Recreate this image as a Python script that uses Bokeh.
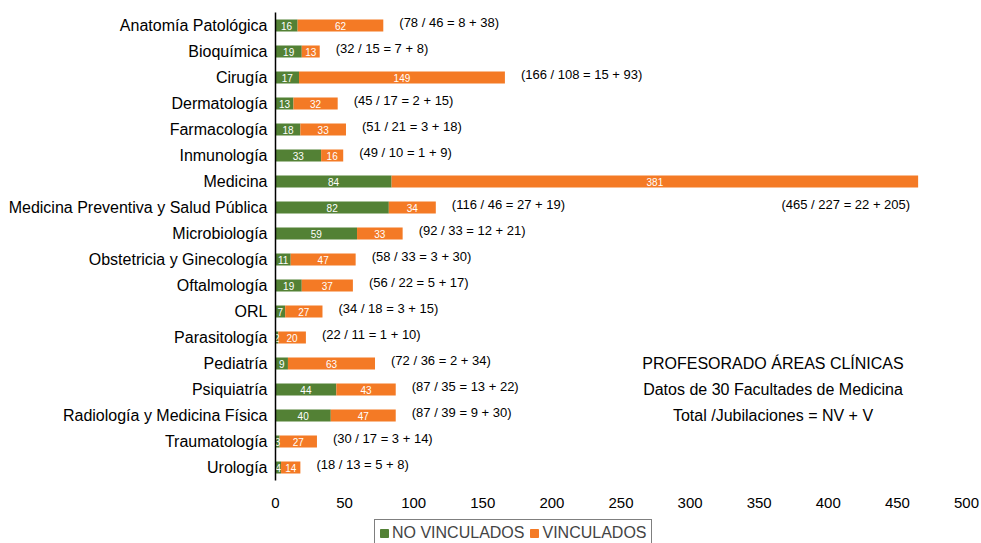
from bokeh.plotting import figure
from bokeh.layouts import column
from bokeh.models import ColumnDataSource, FactorRange, Legend, LegendItem, FixedTicker
from bokeh.core.properties import value
from bokeh.embed import file_html
from bokeh.resources import INLINE

categories = ["Anatomía Patológica", "Bioquímica", "Cirugía", "Dermatología", "Farmacología",
              "Inmunología", "Medicina", "Medicina Preventiva y Salud Pública", "Microbiología",
              "Obstetricia y Ginecología", "Oftalmología", "ORL", "Parasitología", "Pediatría",
              "Psiquiatría", "Radiología y Medicina Física", "Traumatología", "Urología"]
no_vinculados = [16, 19, 17, 13, 18, 33, 84, 82, 59, 11, 19, 7, 2, 9, 44, 40, 3, 4]
vinculados = [62, 13, 149, 32, 33, 16, 381, 34, 33, 47, 37, 27, 20, 63, 43, 47, 27, 14]
jub_nv = [8, 7, 15, 2, 3, 1, 22, 27, 12, 3, 5, 3, 1, 2, 13, 9, 3, 5]
jub_v = [38, 8, 93, 15, 18, 9, 205, 19, 21, 30, 17, 15, 10, 34, 22, 30, 14, 8]
x_ticks = [0, 50, 100, 150, 200, 250, 300, 350, 400, 450, 500]
series_names = ["NO VINCULADOS", "VINCULADOS"]
box_lines = ["PROFESORADO ÁREAS CLÍNICAS", "Datos de 30 Facultades de Medicina",
             "Total /Jubilaciones = NV + V"]

GREEN = "#538135"
ORANGE = "#F47A25"
FONT = "Liberation Sans"

totals = [a + b for a, b in zip(no_vinculados, vinculados)]
jub_tot = [a + b for a, b in zip(jub_nv, jub_v)]
ann = [f"({t} / {j} = {a} + {b})" for t, j, a, b in zip(totals, jub_tot, jub_nv, jub_v)]

src = ColumnDataSource(dict(cat=categories, nv=no_vinculados, v=vinculados,
                            nv_mid=[a / 2 for a in no_vinculados],
                            v_mid=[a + b / 2 for a, b in zip(no_vinculados, vinculados)],
                            nv_txt=[str(a) for a in no_vinculados],
                            v_txt=[str(b) for b in vinculados],
                            tot=totals, ann=ann))

p = figure(width=981, height=518, y_range=FactorRange(factors=categories[::-1], range_padding=0),
           x_range=(0, 500), output_backend="svg", toolbar_location=None,
           min_border_left=275, min_border_right=15, min_border_top=12, min_border_bottom=38)
p.outline_line_color = None
p.grid.grid_line_color = None
p.background_fill_color = "white"
p.border_fill_color = "white"

rs = p.hbar_stack(["nv", "v"], y="cat", height=0.46, color=[GREEN, ORANGE], source=src,
                  line_color=None)

for col, txt in (("nv_mid", "nv_txt"), ("v_mid", "v_txt")):
    p.text(x=col, y="cat", text=txt, source=src, text_color="white", text_align="center",
           text_baseline="middle", text_font=value(FONT), text_font_size="10px")

# annotations (Total / Jubilaciones = NV + V)
norm_idx = [i for i, c in enumerate(categories) if c != "Medicina"]
med_idx = [i for i, c in enumerate(categories) if c == "Medicina"]
src_a = ColumnDataSource(dict(x=[totals[i] for i in norm_idx], y=[categories[i] for i in norm_idx],
                              t=[ann[i] for i in norm_idx]))
p.text(x="x", y="y", text="t", source=src_a, x_offset=16, y_offset=-3, text_align="left",
       text_baseline="middle", text_font=value(FONT), text_font_size="13px", text_color="black")
src_m = ColumnDataSource(dict(x=[totals[i] for i in med_idx], y=[categories[i] for i in med_idx],
                              t=[ann[i] for i in med_idx]))
p.text(x="x", y="y", text="t", source=src_m, x_offset=-8, y_offset=23, text_align="right",
       text_baseline="middle", text_font=value(FONT), text_font_size="13px", text_color="black")

# text box
src_b = ColumnDataSource(dict(x=[360] * 3, y=["Pediatría", "Psiquiatría", "Radiología y Medicina Física"],
                              t=box_lines))
p.text(x="x", y="y", text="t", source=src_b, text_align="center", text_baseline="middle",
       text_font=value(FONT), text_font_size="16px", text_color="black")

p.xaxis.ticker = FixedTicker(ticks=x_ticks)
p.xaxis.axis_line_color = None
p.xaxis.major_tick_line_color = None
p.xaxis.minor_tick_line_color = None
p.xaxis.major_label_standoff = 11
p.xaxis.major_label_text_font = FONT
p.xaxis.major_label_text_font_size = "15px"
p.xaxis.major_label_text_color = "black"

p.yaxis.axis_line_color = "black"
p.yaxis.axis_line_width = 1.5
p.yaxis.major_tick_line_color = None
p.yaxis.minor_tick_line_color = None
p.yaxis.major_label_standoff = 2
p.yaxis.major_label_text_font = FONT
p.yaxis.major_label_text_font_size = "16px"
p.yaxis.major_label_text_color = "black"

# legend strip below the chart
p2 = figure(width=981, height=25, x_range=(0, 1), y_range=(0, 1), output_backend="svg",
            toolbar_location=None, x_axis_type=None, y_axis_type=None,
            min_border_left=0, min_border_right=0, min_border_top=0, min_border_bottom=0)
p2.outline_line_color = None
p2.grid.grid_line_color = None
g1 = p2.hbar(y=[-5], right=[-5], left=[-6], height=0.5, color=GREEN)
g2 = p2.hbar(y=[-5], right=[-5], left=[-6], height=0.5, color=ORANGE)
legend = Legend(items=[LegendItem(label=series_names[0], renderers=[g1]),
                       LegendItem(label=series_names[1], renderers=[g2])],
                orientation="horizontal", location=(99, -4),
                label_text_font=FONT, label_text_font_size="16px", label_standoff=3,
                glyph_width=10, glyph_height=10, spacing=5, padding=4, margin=0,
                border_line_color="black", border_line_width=1,
                label_height=14, label_text_line_height=1.0,
                background_fill_alpha=0)
p2.add_layout(legend, "center")

open("out.html", "w").write(file_html(column(p, p2, spacing=0), INLINE))
